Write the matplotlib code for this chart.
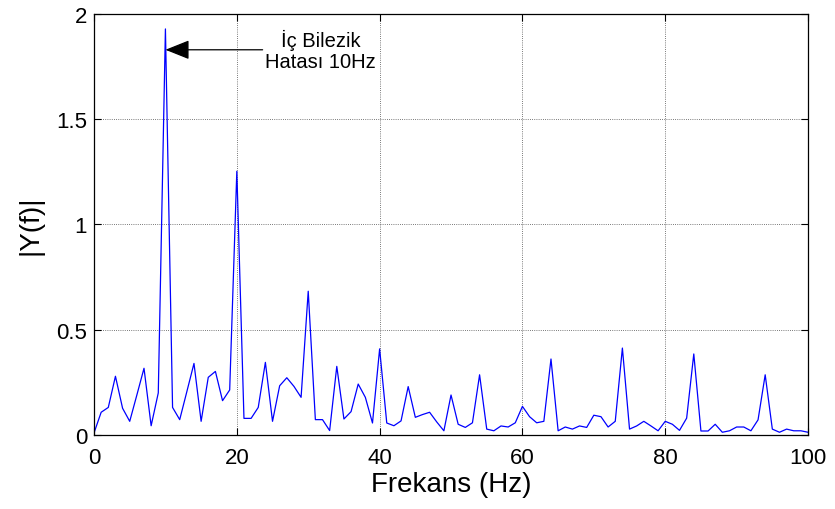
import numpy as np
import matplotlib
matplotlib.use("Agg")
import matplotlib.pyplot as plt

plt.rcParams['font.family'] = ['Liberation Sans', 'DejaVu Sans']

# frekans ekseni (1 Hz aralik)
frekans = np.arange(0, 101)

# |Y(f)| genlikleri
genlik = [
    0.01, 0.108, 0.131, 0.279, 0.127, 0.065, 0.19, 0.317, 0.044, 0.2,      # 0-9
    1.929, 0.131, 0.073, 0.206, 0.34, 0.065, 0.274, 0.302, 0.163, 0.214,   # 10-19
    1.253, 0.079, 0.079, 0.131, 0.345, 0.065, 0.234, 0.272, 0.231, 0.179,  # 20-29
    0.683, 0.073, 0.073, 0.021, 0.326, 0.076, 0.111, 0.242, 0.179, 0.057,  # 30-39
    0.409, 0.057, 0.044, 0.067, 0.23, 0.084, 0.097, 0.108, 0.062, 0.02,    # 40-49
    0.19, 0.051, 0.036, 0.058, 0.286, 0.028, 0.02, 0.043, 0.038, 0.058,   # 50-59
    0.136, 0.087, 0.058, 0.065, 0.361, 0.02, 0.038, 0.028, 0.043, 0.036,  # 60-69
    0.094, 0.087, 0.038, 0.065, 0.413, 0.028, 0.043, 0.065, 0.043, 0.02,  # 70-79
    0.065, 0.051, 0.022, 0.08, 0.385, 0.019, 0.019, 0.051, 0.013, 0.02,   # 80-89
    0.038, 0.038, 0.02, 0.072, 0.286, 0.028, 0.013, 0.028, 0.02, 0.02,   # 90-99
    0.013,                                                                 # 100
]

x_ticks = [0, 20, 40, 60, 80, 100]
y_ticks = [0, 0.5, 1, 1.5, 2]
y_tick_labels = ['0', '0.5', '1', '1.5', '2']

ok_ucu = (10, 1.83)
yazi_yeri = (24.0, 1.83)
ok_yazisi = "İç Bilezik\nHatası 10Hz"

fig = plt.figure(figsize=(8.35, 5.10), dpi=100)
ax = fig.add_axes([0.1126, 0.1451, 0.8551, 0.8255])

ax.plot(frekans, genlik, color='#0000ff', linewidth=0.9)

ax.set_xlim(0, 100)
ax.set_ylim(0, 2)
ax.set_xticks(x_ticks)
ax.set_yticks(y_ticks)
ax.set_yticklabels(y_tick_labels)

ax.grid(True, color='0.3', linestyle=(0, (1, 1.6)), linewidth=0.6)
ax.tick_params(direction='in', length=5, width=0.8, top=True, right=True,
               labelsize=16, colors='black')
ax.tick_params(axis='x', pad=9)
ax.tick_params(axis='y', pad=5)
for s in ax.spines.values():
    s.set_linewidth(0.9)

ax.set_xlabel('Frekans (Hz)', fontsize=20, labelpad=2)
ax.set_ylabel('|Y(f)|', fontsize=20, labelpad=9)

ax.annotate(ok_yazisi, xy=ok_ucu, xytext=yazi_yeri,
            ha='left', va='center', multialignment='center', fontsize=14.5,
            linespacing=1.1,
            arrowprops=dict(arrowstyle='-|>,head_length=0.5,head_width=0.2',
                            color='black', lw=0.9,
                            mutation_scale=30, shrinkA=0, shrinkB=0))

fig.savefig('out.png', dpi=100)
